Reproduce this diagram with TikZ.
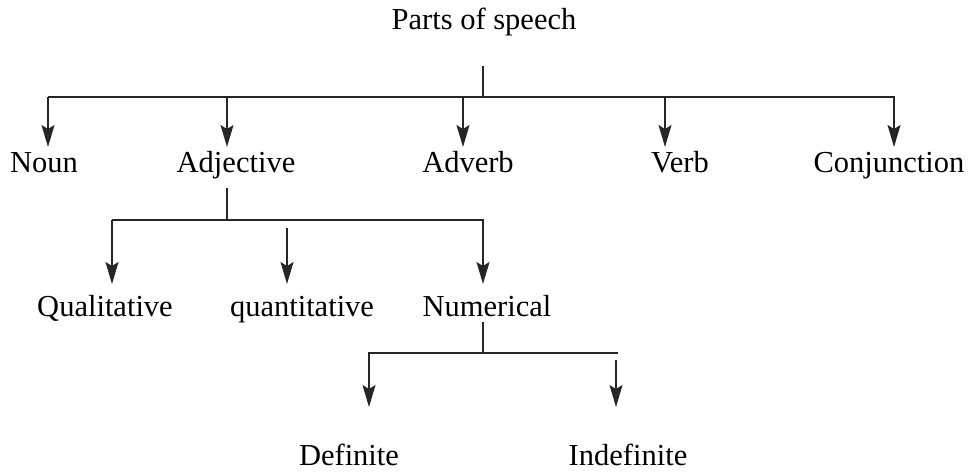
\documentclass[tikz,border=0pt]{standalone}
\usepackage{fontspec}
\setmainfont{Liberation Serif}
\usetikzlibrary{arrows.meta}
\begin{document}
\begin{tikzpicture}[x=1pt,y=-1pt,
  lbl/.style={anchor=base,inner sep=0pt,font=\fontsize{30.5}{36}\selectfont},
  ln/.style={line width=1.3pt,draw=black!85},
  arr/.style={ln,-{Stealth[length=22pt,width=13pt,inset=4pt]}}]
\useasboundingbox (0,0) rectangle (976,475);
% level 0
\node[lbl] (ps) at (484,29) {Parts of speech};
\coordinate (s0t) at (483,66);
\coordinate (s0b) at (483,97);
\coordinate (b0l) at (48,97);
\coordinate (b0r) at (895,97);
% level 1 labels
\node[lbl] (noun) at (44,172) {Noun};
\node[lbl] (adj) at (236,172) {Adjective};
\node[lbl] (adv) at (468,172) {Adverb};
\node[lbl] (verb) at (680,172) {Verb};
\node[lbl] (conj) at (889,172) {Conjunction};
\coordinate (a1) at (48,97);   \coordinate (t1) at (48,147);
\coordinate (a2) at (227,97);  \coordinate (t2) at (227,147);
\coordinate (a3) at (463,97);  \coordinate (t3) at (463,147);
\coordinate (a4) at (665,97);  \coordinate (t4) at (665,147);
\coordinate (a5) at (894,97);  \coordinate (t5) at (894,147);
\draw[ln] (s0t) -- (s0b);
\draw[ln] (b0l) -- (b0r);
\foreach \i in {1,...,5} {\draw[arr] (a\i) -- (t\i);}
% level 2
\coordinate (s1t) at (227,188);
\coordinate (s1b) at (227,220);
\coordinate (b1l) at (112,220);
\coordinate (b1r) at (484,220);
\node[lbl] (qual) at (105,316) {Qualitative};
\node[lbl] (quan) at (302,316) {quantitative};
\node[lbl] (num) at (487,316) {Numerical};
\coordinate (c1) at (112,220); \coordinate (u1) at (112,284);
\coordinate (c2) at (287,228); \coordinate (u2) at (287,284);
\coordinate (c3) at (483,220); \coordinate (u3) at (483,284);
\draw[ln] (s1t) -- (s1b);
\draw[ln] (b1l) -- (b1r);
\foreach \i in {1,2,3} {\draw[arr] (c\i) -- (u\i);}
% level 3
\coordinate (s2t) at (483,322);
\coordinate (s2b) at (483,353);
\coordinate (b2l) at (368,353);
\coordinate (b2r) at (618,353);
\node[lbl] (def) at (349,465) {Definite};
\node[lbl] (indef) at (628,465) {Indefinite};
\coordinate (d1) at (369,353); \coordinate (e1) at (369,407);
\coordinate (d2) at (616,360); \coordinate (e2) at (616,407);
\draw[ln] (s2t) -- (s2b);
\draw[ln] (b2l) -- (b2r);
\foreach \i in {1,2} {\draw[arr] (d\i) -- (e\i);}
\end{tikzpicture}
\end{document}
